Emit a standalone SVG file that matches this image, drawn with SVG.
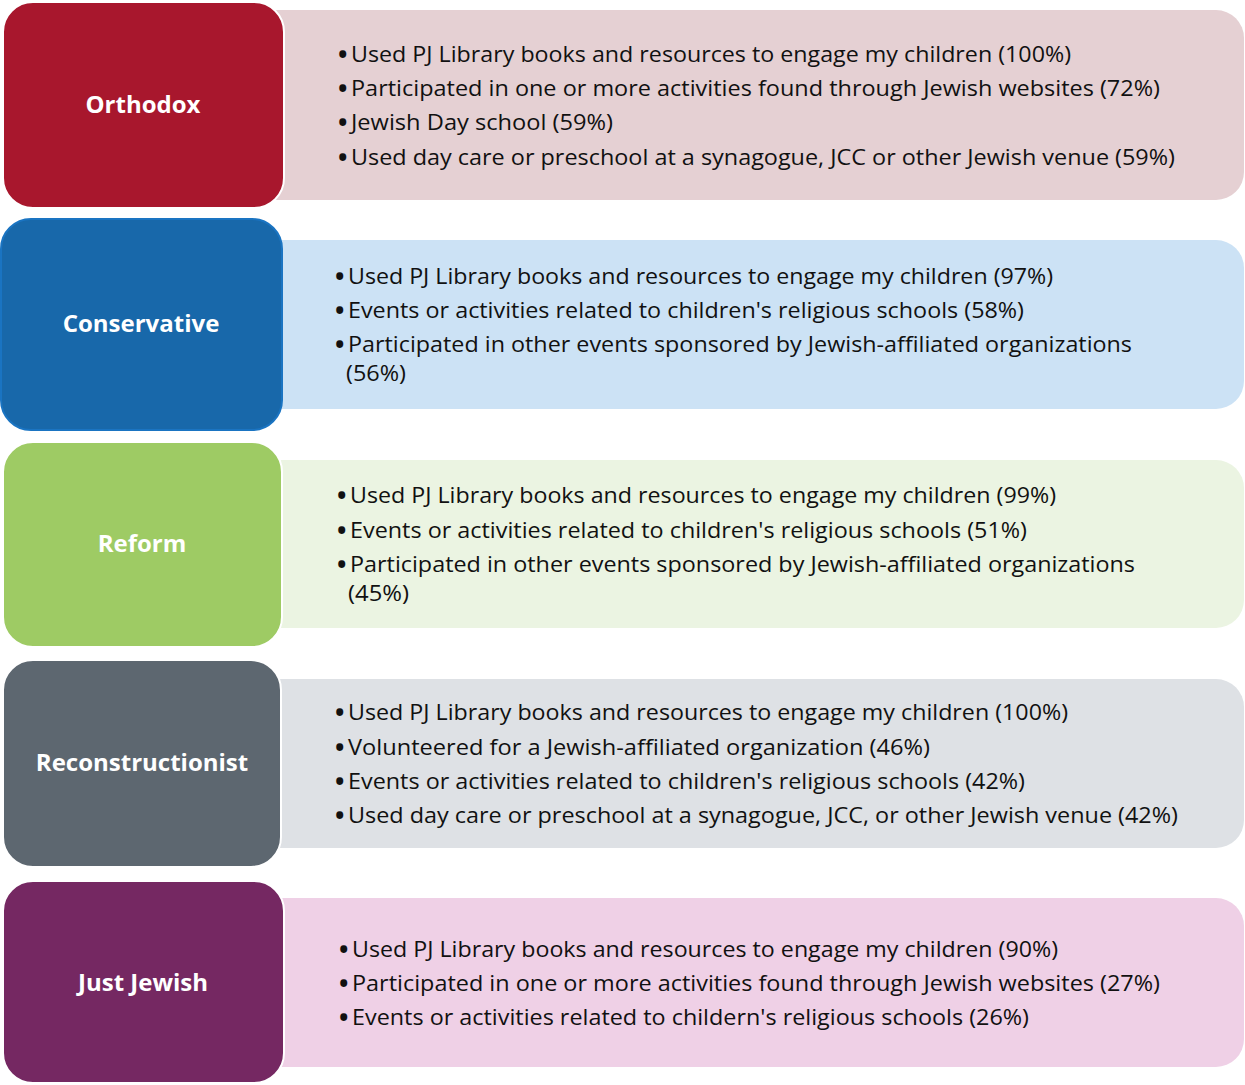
<svg xmlns="http://www.w3.org/2000/svg" width="1245" height="1085" viewBox="0 0 1245 1085">
  <style>
    .label { font-family: "Open Sans", "Noto Sans", "Liberation Sans", sans-serif; font-weight: bold; font-size: 24px; fill: #ffffff; text-anchor: middle; }
    .item { font-family: "Open Sans", "Noto Sans", "Liberation Sans", sans-serif; font-size: 21px; fill: #111111; }
    .dot { font-size: 25px; font-weight: bold; }
    .head { stroke: #ffffff; stroke-width: 2; }
  </style>
  <rect width="1245" height="1085" fill="#ffffff"/>

  <!-- Orthodox -->
  <g id="orthodox">
    <path d="M270 10 H1216 A28 28 0 0 1 1244 38 V172 A28 28 0 0 1 1216 200 H270 Z" fill="#e5d0d3"/>
    <rect class="head" x="3" y="2" width="281" height="206" rx="30" fill="#a8172d"/>
    <text class="label" x="143" y="113">Orthodox</text>
    <text class="item" x="338" y="62"><tspan class="dot" dy="1">•</tspan><tspan x="351" dy="-1" textLength="720" lengthAdjust="spacingAndGlyphs">Used PJ Library books and resources to engage my children (100%)</tspan></text>
    <text class="item" x="338" y="96"><tspan class="dot" dy="1">•</tspan><tspan x="351" dy="-1" textLength="809" lengthAdjust="spacingAndGlyphs">Participated in one or more activities found through Jewish websites (72%)</tspan></text>
    <text class="item" x="338" y="130"><tspan class="dot" dy="1">•</tspan><tspan x="351" dy="-1" textLength="262" lengthAdjust="spacingAndGlyphs">Jewish Day school (59%)</tspan></text>
    <text class="item" x="338" y="165"><tspan class="dot" dy="1">•</tspan><tspan x="351" dy="-1" textLength="824" lengthAdjust="spacingAndGlyphs">Used day care or preschool at a synagogue, JCC or other Jewish venue (59%)</tspan></text>
  </g>

  <!-- Conservative -->
  <g id="conservative">
    <path d="M270 240 H1216 A28 28 0 0 1 1244 268 V381 A28 28 0 0 1 1216 409 H270 Z" fill="#cce2f5"/>
    <rect x="1" y="219" width="281" height="211" rx="30" fill="#1868aa" stroke="#1a74c2" stroke-width="2"/>
    <text class="label" x="141" y="332">Conservative</text>
    <text class="item" x="335" y="284"><tspan class="dot" dy="1">•</tspan><tspan x="348" dy="-1" textLength="705" lengthAdjust="spacingAndGlyphs">Used PJ Library books and resources to engage my children (97%)</tspan></text>
    <text class="item" x="335" y="318"><tspan class="dot" dy="1">•</tspan><tspan x="348" dy="-1" textLength="676" lengthAdjust="spacingAndGlyphs">Events or activities related to children's religious schools (58%)</tspan></text>
    <text class="item" x="335" y="352"><tspan class="dot" dy="1">•</tspan><tspan x="348" dy="-1" textLength="784" lengthAdjust="spacingAndGlyphs">Participated in other events sponsored by Jewish-affiliated organizations</tspan><tspan x="346" dy="29" textLength="60" lengthAdjust="spacingAndGlyphs">(56%)</tspan></text>
  </g>

  <!-- Reform -->
  <g id="reform">
    <path d="M270 460 H1216 A28 28 0 0 1 1244 488 V600 A28 28 0 0 1 1216 628 H270 Z" fill="#ebf4e2"/>
    <rect class="head" x="3" y="442" width="279" height="205" rx="30" fill="#9ecb64"/>
    <text class="label" x="142" y="552">Reform</text>
    <text class="item" x="337" y="503"><tspan class="dot" dy="1">•</tspan><tspan x="350" dy="-1" textLength="706" lengthAdjust="spacingAndGlyphs">Used PJ Library books and resources to engage my children (99%)</tspan></text>
    <text class="item" x="337" y="538"><tspan class="dot" dy="1">•</tspan><tspan x="350" dy="-1" textLength="677" lengthAdjust="spacingAndGlyphs">Events or activities related to children's religious schools (51%)</tspan></text>
    <text class="item" x="337" y="572"><tspan class="dot" dy="1">•</tspan><tspan x="350" dy="-1" textLength="785" lengthAdjust="spacingAndGlyphs">Participated in other events sponsored by Jewish-affiliated organizations</tspan><tspan x="348" dy="29" textLength="61" lengthAdjust="spacingAndGlyphs">(45%)</tspan></text>
  </g>

  <!-- Reconstructionist -->
  <g id="reconstructionist">
    <path d="M270 679 H1216 A28 28 0 0 1 1244 707 V820 A28 28 0 0 1 1216 848 H270 Z" fill="#dee1e5"/>
    <rect class="head" x="3" y="660" width="278" height="207" rx="30" fill="#5d6770"/>
    <text class="label" x="142" y="771">Reconstructionist</text>
    <text class="item" x="335" y="720"><tspan class="dot" dy="1">•</tspan><tspan x="348" dy="-1" textLength="720" lengthAdjust="spacingAndGlyphs">Used PJ Library books and resources to engage my children (100%)</tspan></text>
    <text class="item" x="335" y="755"><tspan class="dot" dy="1">•</tspan><tspan x="348" dy="-1" textLength="582" lengthAdjust="spacingAndGlyphs">Volunteered for a Jewish-affiliated organization (46%)</tspan></text>
    <text class="item" x="335" y="789"><tspan class="dot" dy="1">•</tspan><tspan x="348" dy="-1" textLength="677" lengthAdjust="spacingAndGlyphs">Events or activities related to children's religious schools (42%)</tspan></text>
    <text class="item" x="335" y="823"><tspan class="dot" dy="1">•</tspan><tspan x="348" dy="-1" textLength="830" lengthAdjust="spacingAndGlyphs">Used day care or preschool at a synagogue, JCC, or other Jewish venue (42%)</tspan></text>
  </g>

  <!-- Just Jewish -->
  <g id="just-jewish">
    <path d="M270 898 H1216 A28 28 0 0 1 1244 926 V1039 A28 28 0 0 1 1216 1067 H270 Z" fill="#efd0e6"/>
    <rect class="head" x="3" y="881" width="281" height="202" rx="30" fill="#752862"/>
    <text class="label" x="143" y="991">Just Jewish</text>
    <text class="item" x="339" y="957"><tspan class="dot" dy="1">•</tspan><tspan x="352" dy="-1" textLength="706" lengthAdjust="spacingAndGlyphs">Used PJ Library books and resources to engage my children (90%)</tspan></text>
    <text class="item" x="339" y="991"><tspan class="dot" dy="1">•</tspan><tspan x="352" dy="-1" textLength="808" lengthAdjust="spacingAndGlyphs">Participated in one or more activities found through Jewish websites (27%)</tspan></text>
    <text class="item" x="339" y="1025"><tspan class="dot" dy="1">•</tspan><tspan x="352" dy="-1" textLength="677" lengthAdjust="spacingAndGlyphs">Events or activities related to childern's religious schools (26%)</tspan></text>
  </g>

  <g id="connectors"/>
</svg>
